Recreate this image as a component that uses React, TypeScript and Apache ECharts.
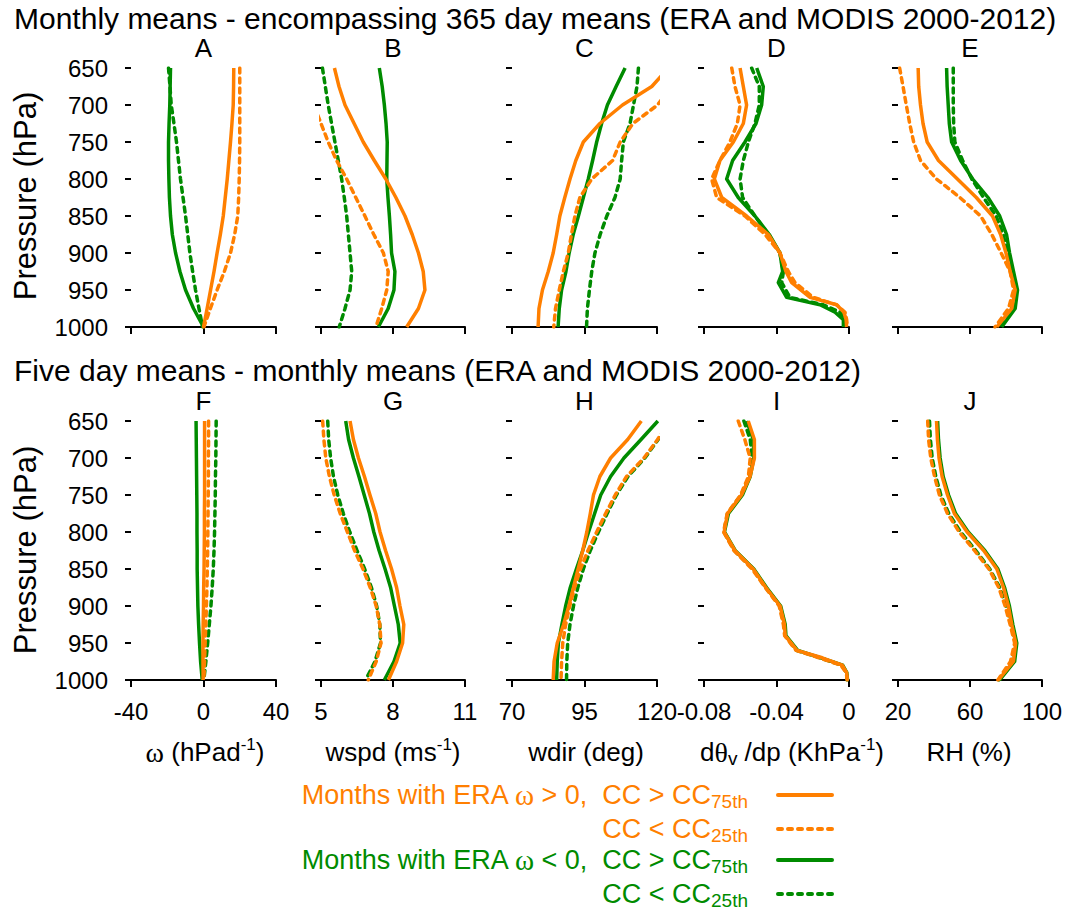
import React, { useEffect, useRef } from 'react';
import * as echarts from 'echarts';

// ---------- data ----------
const PRESSURE = [650, 675, 700, 725, 750, 775, 800, 825, 850, 875, 900, 925, 950, 975, 1000];
const PRESSURE_FINE = [650, 675, 700, 725, 750, 775, 800, 825, 850, 875, 900, 925, 940, 960, 970, 980, 990, 1000];

// Row 1: monthly means
const A_OS = [16.7, 16.6, 16.4, 15.7, 14.9, 14.0, 13.1, 12.0, 10.9, 9.3, 7.5, 5.8, 3.9, 2.0, 0.0];
const A_OD = [20.0, 20.0, 20.0, 20.0, 20.0, 19.9, 19.7, 19.4, 18.9, 17.2, 14.9, 11.5, 7.5, 3.8, 0.2];
const A_GS = [-18.2, -18.4, -18.6, -19.0, -19.3, -19.3, -19.1, -18.8, -18.2, -17.2, -15.4, -13.0, -9.9, -5.5, 0.0];
const A_GD = [-19.3, -18.5, -17.8, -16.3, -14.9, -13.8, -12.7, -11.3, -9.9, -8.7, -7.5, -6.0, -4.4, -2.5, -0.5];

const B_OS = [5.56, 5.75, 6.0, 6.38, 6.76, 7.22, 7.7, 8.12, 8.5, 8.8, 9.06, 9.26, 9.33, 9.06, 8.57];
const B_OD = [4.2, 4.45, 4.7, 5.0, 5.3, 5.65, 6.07, 6.45, 6.83, 7.2, 7.6, 7.8, 7.74, 7.53, 7.29];
const B_GS = [7.43, 7.55, 7.64, 7.71, 7.76, 7.75, 7.74, 7.79, 7.85, 7.9, 7.94, 8.08, 8.04, 7.8, 7.39];
const B_GD = [5.06, 5.18, 5.3, 5.44, 5.58, 5.72, 5.86, 5.97, 6.07, 6.14, 6.21, 6.28, 6.21, 6.0, 5.76];

const C_OS = [124.0, 118.2, 108.1, 100.3, 94.6, 92.0, 90.0, 88.2, 86.5, 85.4, 84.2, 82.5, 80.5, 79.3, 79.0];
const C_OD = [130.0, 125.0, 120.2, 111.7, 107.3, 104.7, 97.5, 93.4, 91.7, 90.5, 89.4, 87.7, 86.3, 85.0, 84.4];
const C_GS = [109.0, 105.9, 102.9, 100.9, 99.2, 97.8, 96.3, 94.6, 92.9, 91.1, 89.7, 88.6, 87.1, 86.3, 85.9];
const C_GD = [113.6, 113.1, 111.9, 110.7, 108.4, 107.8, 107.3, 105.5, 102.7, 100.4, 98.6, 97.5, 96.7, 96.0, 95.7];

const D_OS = [-0.0601, -0.0583, -0.0565, -0.0583, -0.0638, -0.0712, -0.0743, -0.0702, -0.0565, -0.0445, -0.0381, -0.0348, -0.0316, -0.0215, -0.0068, -0.0028, -0.0016, -0.0013];
const D_OD = [-0.0647, -0.0629, -0.0601, -0.0616, -0.0657, -0.0712, -0.0758, -0.073, -0.0574, -0.0463, -0.0381, -0.0335, -0.0298, -0.0197, -0.0068, -0.0022, -0.0013, -0.0009];
const D_GS = [-0.0509, -0.0473, -0.0482, -0.0513, -0.0574, -0.0642, -0.0675, -0.0611, -0.0519, -0.044, -0.0381, -0.0366, -0.039, -0.0344, -0.016, -0.0077, -0.0031, -0.0031];
const D_GD = [-0.0537, -0.0495, -0.0495, -0.0519, -0.0555, -0.0583, -0.0601, -0.0587, -0.0519, -0.0445, -0.0381, -0.0362, -0.0371, -0.0326, -0.0142, -0.005, -0.0022, -0.0022];

const E_OS = [31.2, 31.5, 32.5, 33.9, 36.2, 42.5, 53.0, 63.5, 72.5, 77.0, 80.0, 82.3, 85.1, 83.2, 74.9];
const E_OD = [20.9, 22.8, 24.6, 26.5, 28.7, 32.5, 41.4, 54.4, 65.9, 72.1, 77.3, 82.3, 84.2, 81.4, 73.9];
const E_GS = [47.0, 47.3, 47.9, 48.5, 49.8, 54.8, 61.5, 70.0, 76.5, 80.3, 82.0, 84.2, 86.4, 85.1, 77.6];
const E_GD = [50.7, 50.7, 50.7, 50.9, 51.6, 55.9, 61.0, 67.5, 74.5, 78.5, 80.6, 83.2, 85.6, 83.2, 75.8];

// Row 2: five day means - monthly means
const F_OS = [0.6, 0.6, 0.6, 0.6, 0.6, 0.5, 0.5, 0.4, 0.3, 0.1, 0.0, -0.2, -0.3, -0.3, -0.2];
const F_OD = [2.8, 2.8, 2.7, 2.7, 2.6, 2.5, 2.4, 2.3, 2.1, 1.9, 1.6, 1.3, 0.9, 0.6, 0.2];
const F_GS = [-4.1, -4.0, -3.9, -3.8, -3.7, -3.6, -3.6, -3.5, -3.5, -3.3, -3.1, -2.7, -2.2, -1.6, -0.7];
const F_GD = [7.0, 6.9, 6.8, 6.6, 6.5, 6.3, 6.1, 5.8, 5.4, 4.8, 4.1, 3.2, 2.3, 1.3, 0.2];

const G_OS = [6.21, 6.35, 6.56, 6.81, 7.04, 7.28, 7.46, 7.69, 7.94, 8.15, 8.29, 8.45, 8.4, 8.15, 7.81];
const G_OD = [5.07, 5.12, 5.2, 5.35, 5.55, 5.8, 6.1, 6.4, 6.75, 7.05, 7.3, 7.45, 7.5, 7.3, 6.97];
const G_GS = [6.03, 6.15, 6.35, 6.58, 6.8, 7.02, 7.2, 7.42, 7.67, 7.9, 8.06, 8.22, 8.3, 8.04, 7.64];
const G_GD = [5.28, 5.32, 5.4, 5.52, 5.7, 5.93, 6.2, 6.5, 6.82, 7.1, 7.32, 7.45, 7.48, 7.25, 6.86];

const H_OS = [114.6, 109.9, 104.0, 100.3, 98.1, 97.0, 95.8, 94.4, 92.8, 91.2, 89.6, 87.8, 85.6, 84.5, 84.2];
const H_OD = [124.5, 120.2, 115.5, 109.5, 105.6, 102.3, 99.2, 96.2, 93.6, 91.6, 89.9, 88.5, 87.5, 87.1, 86.9];
const H_GS = [120.3, 114.5, 108.6, 104.0, 100.6, 98.5, 96.4, 94.4, 92.2, 90.1, 88.5, 87.2, 86.0, 85.6, 85.4];
const H_GD = [124.5, 120.4, 115.8, 110.0, 106.0, 102.8, 99.8, 97.0, 94.6, 92.7, 91.2, 90.0, 89.2, 88.9, 88.8];

const I_OS = [-0.0556, -0.0522, -0.0522, -0.0546, -0.0593, -0.067, -0.0689, -0.063, -0.0528, -0.0459, -0.038, -0.0356, -0.0352, -0.0287, -0.0148, -0.0037, -0.0013, -0.0009];
const I_OD = [-0.0611, -0.0575, -0.0545, -0.0555, -0.0598, -0.0672, -0.0692, -0.0635, -0.0535, -0.0462, -0.0385, -0.0362, -0.0355, -0.0292, -0.0165, -0.0045, -0.0015, -0.001];
const I_GS = [-0.0565, -0.0528, -0.0525, -0.0545, -0.0588, -0.0665, -0.0687, -0.0628, -0.0525, -0.0455, -0.0377, -0.0352, -0.0348, -0.0283, -0.0155, -0.0035, -0.0012, -0.0008];
const I_GD = [-0.058, -0.0545, -0.0535, -0.055, -0.0595, -0.067, -0.069, -0.0632, -0.053, -0.046, -0.0382, -0.0358, -0.0352, -0.029, -0.016, -0.004, -0.0014, -0.001];

const J_OS = [41.4, 41.9, 42.8, 44.5, 47.5, 51.3, 58.4, 67.6, 74.9, 78.6, 81.3, 83.2, 85.4, 84.1, 75.8];
const J_OD = [36.5, 37.0, 38.2, 40.3, 43.0, 47.5, 54.0, 62.5, 70.5, 76.0, 79.5, 82.3, 84.8, 82.5, 75.5];
const J_GS = [42.0, 42.5, 43.4, 45.1, 48.1, 52.0, 59.0, 68.2, 75.5, 79.2, 81.9, 83.8, 86.0, 84.8, 76.5];
const J_GD = [37.5, 38.0, 39.0, 41.0, 43.8, 48.2, 54.8, 63.2, 71.0, 76.5, 80.0, 82.8, 85.2, 83.0, 76.0];

const OMEGA_TICKS = [-40, 0, 40];
const WSPD_TICKS = [5, 8, 11];
const WDIR_TICKS = [70, 95, 120];
const DTHETA_TICKS = [-0.08, -0.04, 0];
const RH_TICKS = [20, 60, 100];
const PRESSURE_TICKS = [650, 700, 750, 800, 850, 900, 950, 1000];

const PANEL_LETTERS = ['A', 'B', 'C', 'D', 'E', 'F', 'G', 'H', 'I', 'J'];
const TITLE_TOP = 'Monthly means - encompassing 365 day means (ERA and MODIS 2000-2012)';
const TITLE_BOTTOM = 'Five day means - monthly means (ERA and MODIS 2000-2012)';

// ---------- styling ----------
const ORANGE = '#ff7f00';
const GREEN = '#008b00';
const FONT = '"Liberation Sans", Arial, Helvetica, sans-serif';
const SERIF = '"Liberation Serif", "DejaVu Serif", serif';

const GRID_LEFT = [131, 321, 512, 704, 898];
const GRID_W = [145, 144, 145, 145, 144];
const GRID_TOP = [68, 421];
const GRID_H = 259;

type Panel = {
  row: number; col: number; ticks: number[]; p: number[];
  os: number[]; od: number[]; gs: number[]; gd: number[];
};

const PANELS: Panel[] = [
  { row: 0, col: 0, ticks: OMEGA_TICKS, p: PRESSURE, os: A_OS, od: A_OD, gs: A_GS, gd: A_GD },
  { row: 0, col: 1, ticks: WSPD_TICKS, p: PRESSURE, os: B_OS, od: B_OD, gs: B_GS, gd: B_GD },
  { row: 0, col: 2, ticks: WDIR_TICKS, p: PRESSURE, os: C_OS, od: C_OD, gs: C_GS, gd: C_GD },
  { row: 0, col: 3, ticks: DTHETA_TICKS, p: PRESSURE_FINE, os: D_OS, od: D_OD, gs: D_GS, gd: D_GD },
  { row: 0, col: 4, ticks: RH_TICKS, p: PRESSURE, os: E_OS, od: E_OD, gs: E_GS, gd: E_GD },
  { row: 1, col: 0, ticks: OMEGA_TICKS, p: PRESSURE, os: F_OS, od: F_OD, gs: F_GS, gd: F_GD },
  { row: 1, col: 1, ticks: WSPD_TICKS, p: PRESSURE, os: G_OS, od: G_OD, gs: G_GS, gd: G_GD },
  { row: 1, col: 2, ticks: WDIR_TICKS, p: PRESSURE, os: H_OS, od: H_OD, gs: H_GS, gd: H_GD },
  { row: 1, col: 3, ticks: DTHETA_TICKS, p: PRESSURE_FINE, os: I_OS, od: I_OD, gs: I_GS, gd: I_GD },
  { row: 1, col: 4, ticks: RH_TICKS, p: PRESSURE, os: J_OS, od: J_OD, gs: J_GS, gd: J_GD },
];

const DASH = [5, 5];

function fmtTick(v: number): string {
  if (Math.abs(v) < 1e-9) return '0';
  if (Math.abs(v) < 1) return v.toFixed(2);
  return String(v);
}

function buildOption() {
  const grid = PANELS.map((pn) => ({
    left: GRID_LEFT[pn.col], top: GRID_TOP[pn.row], width: GRID_W[pn.col], height: GRID_H, containLabel: false,
  }));
  const xAxis = PANELS.map((pn, i) => ({
    type: 'value', gridIndex: i, position: 'bottom',
    min: pn.ticks[0], max: pn.ticks[pn.ticks.length - 1],
    axisLine: { show: true, onZero: false, lineStyle: { color: '#000', width: 2 } },
    axisTick: { show: true, length: 7, customValues: pn.ticks, lineStyle: { color: '#000', width: 2 } },
    axisLabel: {
      show: pn.row === 1, customValues: pn.ticks, margin: 19, fontSize: 24, color: '#000', fontFamily: FONT,
      formatter: (v: number) => fmtTick(v), hideOverlap: false,
    },
    splitLine: { show: false },
  }));
  const yAxis = PANELS.map((pn, i) => ({
    type: 'value', gridIndex: i, inverse: true, min: 650, max: 1000, position: 'left',
    axisLine: { show: false, onZero: false },
    axisTick: { show: true, length: 6, customValues: PRESSURE_TICKS, lineStyle: { color: '#000', width: 2 } },
    axisLabel: {
      show: pn.col === 0, customValues: PRESSURE_TICKS, margin: 23, fontSize: 24, color: '#000', fontFamily: FONT,
      formatter: (v: number) => String(v),
    },
    splitLine: { show: false },
  }));
  const series: any[] = [];
  PANELS.forEach((pn, i) => {
    const mk = (vals: number[], color: string, dashed: boolean) => ({
      type: 'line', xAxisIndex: i, yAxisIndex: i, silent: true, symbol: 'none', showSymbol: false,
      clip: true, smooth: false,
      data: pn.p.map((pr, k) => [vals[k], pr]),
      lineStyle: { color, width: 3.5, type: dashed ? DASH : 'solid', cap: dashed ? 'round' : 'butt', join: 'round' },
    });
    series.push(mk(pn.gd, GREEN, true));
    series.push(mk(pn.gs, GREEN, false));
    series.push(mk(pn.od, ORANGE, true));
    series.push(mk(pn.os, ORANGE, false));
  });

  const txt = (x: number, y: number, text: string, extra: any = {}) => ({
    type: 'text', x, y, silent: true,
    style: { text, fill: '#000', fontFamily: FONT, fontSize: 24, align: 'center', verticalAlign: 'middle', ...extra },
  });
  const rich = (fill: string, size: number) => ({
    n: { fill, fontFamily: FONT, fontSize: size, lineHeight: 32 },
    g: { fill, fontFamily: SERIF, fontSize: size + 2, lineHeight: 32 },
    sup: { fill, fontFamily: FONT, fontSize: 17, lineHeight: 22, verticalAlign: 'top' },
    sub: { fill, fontFamily: FONT, fontSize: 19, lineHeight: 11, verticalAlign: 'bottom' },
  });

  const graphics: any[] = [];
  graphics.push(txt(14, 18, TITLE_TOP, { align: 'left', fontSize: 30, lineHeight: 30 }));
  graphics.push(txt(14, 370, TITLE_BOTTOM, { align: 'left', fontSize: 30, lineHeight: 30 }));
  PANELS.forEach((pn, i) => {
    graphics.push(txt(GRID_LEFT[pn.col] + GRID_W[pn.col] / 2, pn.row === 0 ? 48 : 401, PANEL_LETTERS[i], { fontSize: 26, lineHeight: 24 }));
  });
  graphics.push({ ...txt(25, 196, 'Pressure (hPa)', { fontSize: 31 }), rotation: Math.PI / 2 });
  graphics.push({ ...txt(25, 550, 'Pressure (hPa)', { fontSize: 31 }), rotation: Math.PI / 2 });

  const nameY = 752;
  const names = [
    { x: 205, t: '{g|ω}{n| (hPad}{sup|-1}{n|)}' },
    { x: 393, t: '{n|wspd (ms}{sup|-1}{n|)}' },
    { x: 586, t: '{n|wdir (deg)}' },
    { x: 792, t: '{n|d}{g|θ}{sub|v}{n| /dp (KhPa}{sup|-1}{n|)}' },
    { x: 969, t: '{n|RH (%)}' },
  ];
  names.forEach((nm) => graphics.push(txt(nm.x, nameY, nm.t, { rich: rich('#000', 26) })));

  // legend
  const legendRows = [
    { y: 795, t: '{n|Months with ERA }{g|ω}{n| > 0,  CC > CC}{sub|75th}', color: ORANGE, dashed: false },
    { y: 829, t: '{n|CC < CC}{sub|25th}', color: ORANGE, dashed: true },
    { y: 860, t: '{n|Months with ERA }{g|ω}{n| < 0,  CC > CC}{sub|75th}', color: GREEN, dashed: false },
    { y: 894, t: '{n|CC < CC}{sub|25th}', color: GREEN, dashed: true },
  ];
  legendRows.forEach((r) => {
    graphics.push(txt(748, r.y, r.t, { align: 'right', rich: rich(r.color, 27) }));
    graphics.push({
      type: 'line', silent: true,
      shape: { x1: 778, y1: r.y, x2: 832, y2: r.y },
      style: { stroke: r.color, lineWidth: 4, lineCap: 'round', lineDash: r.dashed ? [4, 6] : null },
    });
  });

  return {
    animation: false,
    backgroundColor: '#fff',
    textStyle: { fontFamily: FONT },
    grid, xAxis, yAxis, series,
    graphic: { elements: graphics },
  };
}

export default function App() {
  const ref = useRef<HTMLDivElement>(null);
  useEffect(() => {
    if (!ref.current) return;
    const chart = echarts.init(ref.current, undefined, { renderer: 'svg' });
    chart.setOption(buildOption() as any);
    return () => chart.dispose();
  }, []);
  return (
    <div
      ref={ref}
      style={{ position: 'absolute', left: 0, top: 0, width: 1068, height: 911, background: '#fff' }}
    />
  );
}
